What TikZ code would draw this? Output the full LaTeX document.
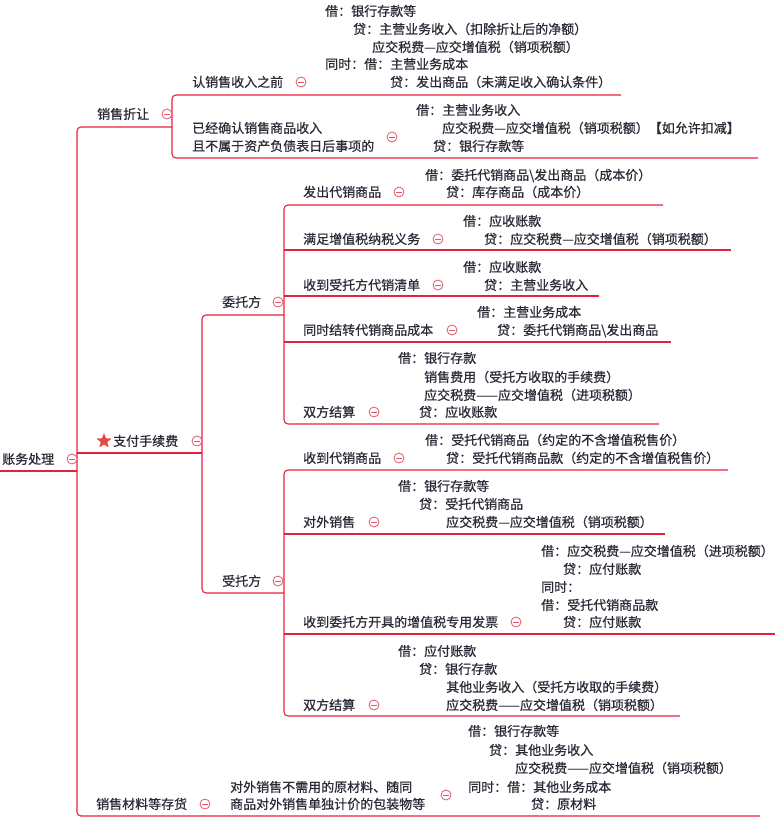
\documentclass[tikz,border=0pt]{standalone}
\usepackage{fontspec}
\newfontfamily\cjk[RawFeature={embolden=0.7}]{Noto Sans CJK SC}
\usetikzlibrary{shapes.geometric}
\definecolor{linecol}{HTML}{E6213F}
\definecolor{foldcol}{HTML}{E4576B}
\definecolor{textcol}{HTML}{2B2B38}
\definecolor{starcol}{HTML}{E8473F}
\tikzset{
  txt/.style={anchor=base west, inner sep=0pt, text=textcol, font=\cjk\fontsize{13}{15}\selectfont, yshift=-4.9pt},
  link/.style={draw=linecol, line width=1.1pt},
  roundlink/.style={link, rounded corners=4pt},
  fold/.style={circle, draw=foldcol, fill=white, line width=0.8pt, minimum size=10pt, inner sep=0pt,
    path picture={\draw[foldcol, line width=0.8pt] ([xshift=-2.6pt]path picture bounding box.center) -- ([xshift=2.6pt]path picture bounding box.center);}},
  starnode/.style={star, star points=5, star point ratio=2.4, fill=starcol, minimum size=16pt, inner sep=0pt, rounded corners=0.6pt}
}
\begin{document}
\begin{tikzpicture}[x=1pt,y=-1pt]
\useasboundingbox (0,0) rectangle (775,822);

% ---------- coordinates of connector lines ----------
\coordinate (r0) at (0,471);   \coordinate (r1) at (77,471);
\coordinate (tkTop) at (77,127); \coordinate (tkBot) at (77,816);
\coordinate (z1) at (172,127);
\coordinate (p0) at (77,453);  \coordinate (p1) at (202,453);
\coordinate (m1) at (760,816);
% 销售折让 children
\coordinate (zaS) at (172,95);  \coordinate (zaE) at (621,95);
\coordinate (zbS) at (172,158); \coordinate (zbE) at (758,158);
% 支付手续费 children
\coordinate (wS) at (202,315);  \coordinate (wE) at (284,315);
\coordinate (sS) at (202,593);  \coordinate (sE) at (284,593);
% 委托方 children
\coordinate (w1S) at (284,205); \coordinate (w1E) at (663,205);
\coordinate (w2S) at (284,250); \coordinate (w2E) at (731,250);
\coordinate (w3S) at (284,296); \coordinate (w3E) at (599,296);
\coordinate (w4S) at (284,342); \coordinate (w4E) at (671,342);
\coordinate (w5S) at (284,424); \coordinate (w5E) at (659,424);
% 受托方 children
\coordinate (s1S) at (284,470); \coordinate (s1E) at (728,470);
\coordinate (s2S) at (284,534); \coordinate (s2E) at (665,534);
\coordinate (s3S) at (284,634); \coordinate (s3E) at (775,634);
\coordinate (s4S) at (284,716); \coordinate (s4E) at (680,716);

% ---------- connectors ----------
\draw[link] (r0) -- (r1);
\draw[roundlink] (z1) -- (tkTop) -- (tkBot) -- (m1);
\draw[link] (p0) -- (p1);
\draw[roundlink] (zaE) -- (zaS) -- (zbS) -- (zbE);
\draw[roundlink] (wE) -- (wS) -- (sS) -- (sE);
\draw[roundlink] (w1E) -- (w1S) -- (w5S) -- (w5E);
\draw[link] (w2S) -- (w2E);
\draw[link] (w3S) -- (w3E);
\draw[link] (w4S) -- (w4E);
\draw[roundlink] (s1E) -- (s1S) -- (s4S) -- (s4E);
\draw[link] (s2S) -- (s2E);
\draw[link] (s3S) -- (s3E);

% ---------- root ----------
\node[txt] (root) at (2,459) {账务处理};
\node[fold] (fRoot) at (72,459) {};

% ---------- 销售折让 ----------
\node[txt] (xszr) at (97,114) {销售折让};
\node[fold] (fXszr) at (167,114) {};

\node[txt] (za) at (192,82) {认销售收入之前};
\node[fold] (fZa) at (301,82) {};
\node[txt] (za1) at (325,11) {借：银行存款等};
\node[txt] (za2) at (353,29) {贷：主营业务收入（扣除折让后的净额）};
\node[txt] (za3) at (372,47) {应交税费—应交增值税（销项税额）};
\node[txt] (za4) at (325,64) {同时：借：主营业务成本};
\node[txt] (za5) at (390,82) {贷：发出商品（未满足收入确认条件）};

\node[txt] (zbA) at (192,128) {已经确认销售商品收入};
\node[txt] (zbB) at (192,146) {且不属于资产负债表日后事项的};
\node[fold] (fZb) at (392,137) {};
\node[txt] (zb1) at (416,110) {借：主营业务收入};
\node[txt] (zb2) at (442,128) {应交税费—应交增值税（销项税额）【如允许扣减】};
\node[txt] (zb3) at (433,146) {贷：银行存款等};

% ---------- 支付手续费 ----------
\node[starnode] (star) at (104,441) {};
\node[txt] (zfsxf) at (113,441) {支付手续费};
\node[fold] (fZf) at (197,441) {};

\node[txt] (wtf) at (222,302) {委托方};
\node[fold] (fWtf) at (278,302) {};
\node[txt] (stf) at (222,581) {受托方};
\node[fold] (fStf) at (278,581) {};

% 委托方 children
\node[txt] (w1) at (303,192) {发出代销商品};
\node[fold] (fW1) at (399,192) {};
\node[txt] (w1a) at (425,175) {借：委托代销商品\textbackslash 发出商品（成本价）};
\node[txt] (w1b) at (446,192) {贷：库存商品（成本价）};

\node[txt] (w2) at (303,239) {满足增值税纳税义务};
\node[fold] (fW2) at (438,239) {};
\node[txt] (w2a) at (463,221) {借：应收账款};
\node[txt] (w2b) at (484,239) {贷：应交税费—应交增值税（销项税额）};

\node[txt] (w3) at (303,285) {收到受托方代销清单};
\node[fold] (fW3) at (438,285) {};
\node[txt] (w3a) at (463,267) {借：应收账款};
\node[txt] (w3b) at (484,285) {贷：主营业务收入};

\node[txt] (w4) at (303,330) {同时结转代销商品成本};
\node[fold] (fW4) at (452,330) {};
\node[txt] (w4a) at (477,312) {借：主营业务成本};
\node[txt] (w4b) at (497,330) {贷：委托代销商品\textbackslash 发出商品};

\node[txt] (w5) at (303,412) {双方结算};
\node[fold] (fW5) at (374,412) {};
\node[txt] (w5a) at (398,358) {借：银行存款};
\node[txt] (w5b) at (424,377) {销售费用（受托方收取的手续费）};
\node[txt] (w5c) at (424,395) {应交税费——应交增值税（进项税额）};
\node[txt] (w5d) at (419,412) {贷：应收账款};

% 受托方 children
\node[txt] (s1) at (303,458) {收到代销商品};
\node[fold] (fS1) at (399,458) {};
\node[txt] (s1a) at (425,440) {借：受托代销商品（约定的不含增值税售价）};
\node[txt] (s1b) at (446,458) {贷：受托代销商品款（约定的不含增值税售价）};

\node[txt] (s2) at (303,522) {对外销售};
\node[fold] (fS2) at (374,522) {};
\node[txt] (s2a) at (398,486) {借：银行存款等};
\node[txt] (s2b) at (419,504) {贷：受托代销商品};
\node[txt] (s2c) at (446,522) {应交税费—应交增值税（销项税额）};

\node[txt] (s3) at (303,622) {收到委托方开具的增值税专用发票};
\node[fold] (fS3) at (516,622) {};
\node[txt] (s3a) at (541,551) {借：应交税费—应交增值税（进项税额）};
\node[txt] (s3b) at (563,569) {贷：应付账款};
\node[txt] (s3c) at (541,587) {同时：};
\node[txt] (s3d) at (541,605) {借：受托代销商品款};
\node[txt] (s3e) at (563,622) {贷：应付账款};

\node[txt] (s4) at (303,705) {双方结算};
\node[fold] (fS4) at (374,705) {};
\node[txt] (s4a) at (398,651) {借：应付账款};
\node[txt] (s4b) at (419,669) {贷：银行存款};
\node[txt] (s4c) at (446,687) {其他业务收入（受托方收取的手续费）};
\node[txt] (s4d) at (446,705) {应交税费——应交增值税（销项税额）};

% ---------- 销售材料等存货 ----------
\node[txt] (xscl) at (96,804) {销售材料等存货};
\node[fold] (fXscl) at (205,804) {};
\node[txt] (mA) at (230,787) {对外销售不需用的原材料、随同};
\node[txt] (mB) at (230,804) {商品对外销售单独计价的包装物等};
\node[fold] (fM) at (446,795) {};
\node[txt] (m1a) at (468,731) {借：银行存款等};
\node[txt] (m1b) at (489,750) {贷：其他业务收入};
\node[txt] (m1c) at (515,768) {应交税费——应交增值税（销项税额）};
\node[txt] (m1d) at (468,787) {同时：借：其他业务成本};
\node[txt] (m1e) at (531,804) {贷：原材料};
\end{tikzpicture}
\end{document}
